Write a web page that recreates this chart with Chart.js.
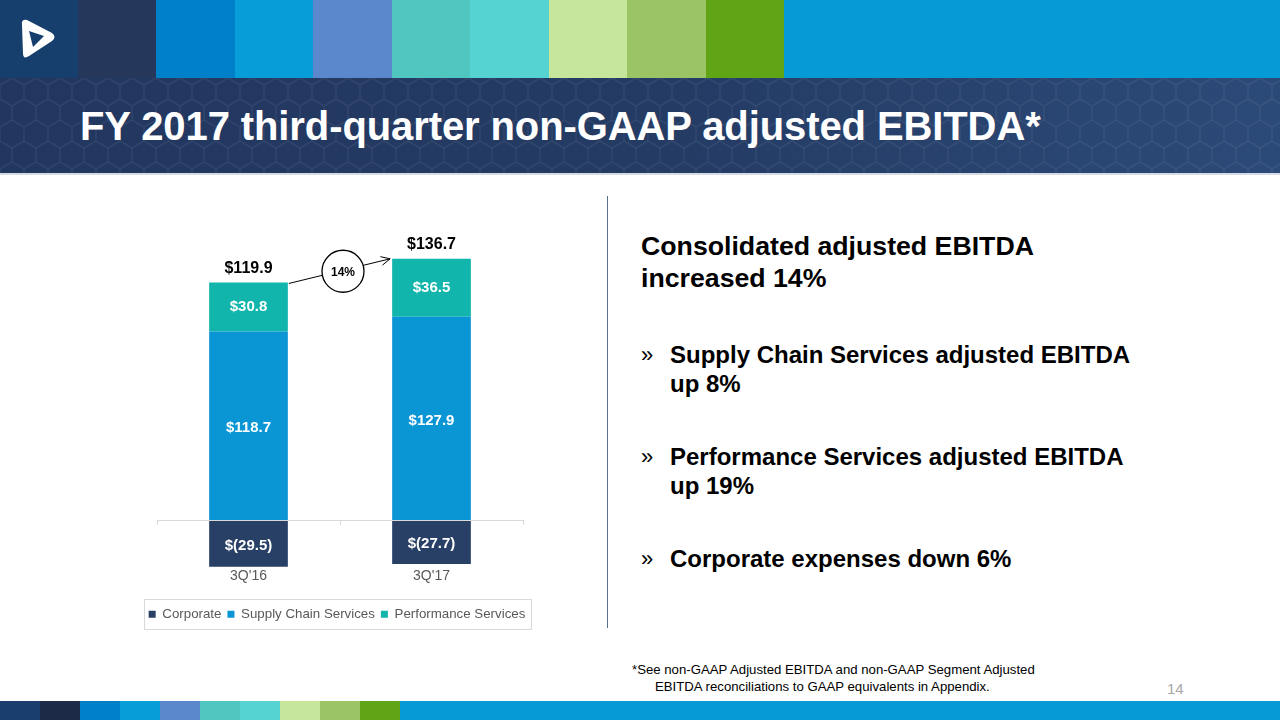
<!DOCTYPE html>
<html><head><meta charset="utf-8">
<script src="https://cdn.jsdelivr.net/npm/chart.js@4.4.0/dist/chart.umd.min.js"></script>
<style>
html,body{margin:0;padding:0;background:#fff;}
body{width:1280px;height:720px;position:relative;overflow:hidden;font-family:"Liberation Sans",Arial,sans-serif;}
.blk{position:absolute;}
#hdr{position:absolute;left:0;top:78px;width:1280px;height:95px;
 background-color:#233a62;
 background-image:url("data:image/svg+xml;utf8,<svg xmlns='http://www.w3.org/2000/svg' width='24' height='42'><path d='M12 0 L24 7 L24 21 L12 28 L0 21 L0 7 Z M12 28 L12 42 M0 21 L-12 28 M24 21 L36 28' fill='none' stroke='%23ffffff' stroke-opacity='0.07' stroke-width='1.2'/></svg>"),linear-gradient(90deg,#223760 0%,#243b63 50%,#2c4a78 100%);}
#hdrline{position:absolute;left:0;top:173px;width:1280px;height:2px;background:#d5dbe3;}
#title{position:absolute;left:80px;top:104px;color:#fff;font-weight:bold;font-size:40px;white-space:nowrap;letter-spacing:-0.1px;}
#chartwrap{position:absolute;left:120px;top:190px;width:434px;height:450px;}
#vline{position:absolute;left:607px;top:196px;width:1px;height:432px;background:#5a6f8f;}
.txt{position:absolute;color:#000;font-weight:bold;white-space:nowrap;}
.bul{position:absolute;font-size:22px;color:#000;}
#foot{position:absolute;left:632px;top:661px;font-size:13.2px;color:#000;line-height:17px;white-space:nowrap;}
#pg{position:absolute;left:1167px;top:680px;font-size:15px;color:#a6a6a6;}
</style></head>
<body>
<div class="blk" style="left:0;top:0;width:78px;height:78px;background:#173f6d"></div>
<svg class="blk" style="left:0;top:0" width="78" height="78" viewBox="0 0 78 78">
 <path d="M22 25 Q21 19 27 20 L52 33 Q57 37 52 41 L29 56 Q23 60 23 53 Z M29 31 L44 36 L33 47 Z" fill="#ffffff" fill-rule="evenodd"/>
</svg>
<div class="blk" style="left:78px;top:0;width:78px;height:78px;background:#25375a"></div>
<div class="blk" style="left:156px;top:0;width:79px;height:78px;background:#0080c8"></div>
<div class="blk" style="left:235px;top:0;width:78px;height:78px;background:#069dd8"></div>
<div class="blk" style="left:313px;top:0;width:79px;height:78px;background:#5b88cd"></div>
<div class="blk" style="left:392px;top:0;width:78px;height:78px;background:#4fc6c0"></div>
<div class="blk" style="left:470px;top:0;width:79px;height:78px;background:#55d3d3"></div>
<div class="blk" style="left:549px;top:0;width:78px;height:78px;background:#c6e69c"></div>
<div class="blk" style="left:627px;top:0;width:79px;height:78px;background:#9bc465"></div>
<div class="blk" style="left:706px;top:0;width:78px;height:78px;background:#5fa515"></div>
<div class="blk" style="left:784px;top:0;width:496px;height:78px;background:#069ad7"></div>
<div id="hdr"></div>
<div id="hdrline"></div>
<div id="title">FY 2017 third-quarter non-GAAP adjusted EBITDA*</div>

<div id="chartwrap"><canvas id="c" width="434" height="450"></canvas></div>

<div id="vline"></div>
<div class="txt" style="left:641px;top:230px;font-size:26.7px;line-height:32px;">Consolidated adjusted EBITDA<br>increased 14%</div>
<div class="bul" style="left:641px;top:342px;">»</div>
<div class="txt" style="left:670px;top:340px;font-size:24px;line-height:29px;">Supply Chain Services adjusted EBITDA<br>up 8%</div>
<div class="bul" style="left:641px;top:444px;">»</div>
<div class="txt" style="left:670px;top:442px;font-size:24px;line-height:29px;">Performance Services adjusted EBITDA<br>up 19%</div>
<div class="bul" style="left:641px;top:546px;">»</div>
<div class="txt" style="left:670px;top:544px;font-size:24px;line-height:29px;">Corporate expenses down 6%</div>

<div id="foot">*See non-GAAP Adjusted EBITDA and non-GAAP Segment Adjusted<br><span style="padding-left:23px">EBITDA reconciliations to GAAP equivalents in Appendix.</span></div>
<div id="pg">14</div>

<div class="blk" style="left:0;top:701px;width:40px;height:19px;background:#1a3f6f"></div>
<div class="blk" style="left:40px;top:701px;width:40px;height:19px;background:#1c2a48"></div>
<div class="blk" style="left:80px;top:701px;width:40px;height:19px;background:#0080c8"></div>
<div class="blk" style="left:120px;top:701px;width:40px;height:19px;background:#069dd8"></div>
<div class="blk" style="left:160px;top:701px;width:40px;height:19px;background:#5b88cd"></div>
<div class="blk" style="left:200px;top:701px;width:40px;height:19px;background:#4fc6c0"></div>
<div class="blk" style="left:240px;top:701px;width:40px;height:19px;background:#55d3d3"></div>
<div class="blk" style="left:280px;top:701px;width:40px;height:19px;background:#c6e69c"></div>
<div class="blk" style="left:320px;top:701px;width:40px;height:19px;background:#9bc465"></div>
<div class="blk" style="left:360px;top:701px;width:40px;height:19px;background:#5fa515"></div>
<div class="blk" style="left:400px;top:701px;width:880px;height:19px;background:#069ad7"></div>

<script>
const categories = ["3Q'16", "3Q'17"];
const corporate = [-29.5, -27.7];
const supplyChain = [118.7, 127.9];
const performance = [30.8, 36.5];
const totals = [119.9, 136.7];
const growthLabel = "14%";

const fmt = v => v < 0 ? '$(' + Math.abs(v).toFixed(1) + ')' : '$' + v.toFixed(1);

const decor = {
  id: 'decor',
  afterDatasetsDraw(chart) {
    const ctx = chart.ctx;
    const area = chart.chartArea;
    const y = chart.scales.y;
    const zeroY = y.getPixelForValue(0);
    ctx.save();
    ctx.strokeStyle = '#d9d9d9';
    ctx.lineWidth = 1;
    ctx.beginPath();
    ctx.moveTo(area.left, zeroY + 0.5); ctx.lineTo(area.right, zeroY + 0.5);
    const n = categories.length;
    for (let i = 0; i <= n; i++) {
      const x = Math.round(area.left + i * (area.right - area.left) / n) + 0.5;
      ctx.moveTo(x, zeroY); ctx.lineTo(x, zeroY + 5);
    }
    ctx.stroke();
    ctx.fillStyle = '#ffffff';
    ctx.font = 'bold 15px "Liberation Sans", Arial, sans-serif';
    ctx.textAlign = 'center';
    ctx.textBaseline = 'middle';
    chart.data.datasets.forEach((ds, di) => {
      const meta = chart.getDatasetMeta(di);
      meta.data.forEach((el, i) => {
        const cy = (el.y + el.base) / 2 + (ds.data[i] < 0 ? 2 : (di === 1 ? 2 : 0));
        ctx.fillText(fmt(ds.data[i]), el.x, cy);
      });
    });
    const top = chart.getDatasetMeta(2);
    ctx.fillStyle = '#000000';
    ctx.font = 'bold 16px "Liberation Sans", Arial, sans-serif';
    ctx.textBaseline = 'bottom';
    top.data.forEach((el, i) => {
      ctx.fillText(fmt(totals[i]), el.x, el.y - 6);
    });
    const a = top.data[0], b = top.data[1];
    const x1 = a.x + a.width / 2 + 1, y1 = a.y + 1;
    const x2 = b.x - b.width / 2 - 2, y2 = b.y;
    ctx.strokeStyle = '#000000';
    ctx.lineWidth = 1;
    ctx.beginPath();
    ctx.moveTo(x1, y1); ctx.lineTo(x2, y2);
    const ang = Math.atan2(y2 - y1, x2 - x1);
    ctx.moveTo(x2, y2); ctx.lineTo(x2 - 10 * Math.cos(ang - 0.45), y2 - 10 * Math.sin(ang - 0.45));
    ctx.moveTo(x2, y2); ctx.lineTo(x2 - 10 * Math.cos(ang + 0.45), y2 - 10 * Math.sin(ang + 0.45));
    ctx.stroke();
    const cx = (area.left + area.right) / 2 + 3;
    const cyc = y1 + (y2 - y1) * ((cx - x1) / (x2 - x1)) + 1;
    ctx.beginPath();
    ctx.arc(cx, cyc, 21, 0, Math.PI * 2);
    ctx.fillStyle = '#ffffff';
    ctx.fill();
    ctx.lineWidth = 1.3;
    ctx.stroke();
    ctx.fillStyle = '#000000';
    ctx.font = 'bold 12px "Liberation Sans", Arial, sans-serif';
    ctx.textBaseline = 'middle';
    ctx.fillText(growthLabel, cx, cyc + 1);
    ctx.restore();
  },
  afterDraw(chart) {
    const hb = chart.legend.legendHitBoxes;
    if (!hb || !hb.length) return;
    let l = Infinity, r = -Infinity, t = Infinity, b = -Infinity;
    hb.forEach(h => { l = Math.min(l, h.left); r = Math.max(r, h.left + h.width); t = Math.min(t, h.top); b = Math.max(b, h.top + h.height); });
    const ctx = chart.ctx;
    ctx.save();
    ctx.strokeStyle = '#d9d9d9';
    ctx.lineWidth = 1;
    ctx.strokeRect(Math.round(l - 5) + 0.5, Math.round((t + b) / 2 - 15) + 0.5, Math.round(r - l + 10), 30);
    ctx.restore();
  }
};

new Chart(document.getElementById('c'), {
  type: 'bar',
  data: {
    labels: categories,
    datasets: [
      { label: 'Corporate', data: corporate, backgroundColor: '#283f66', yAxisID: 'y' },
      { label: 'Supply Chain Services', data: supplyChain, backgroundColor: '#0a96d4', yAxisID: 'y' },
      { label: 'Performance Services', data: performance, backgroundColor: '#12b5ac', yAxisID: 'y' }
    ]
  },
  options: {
    responsive: false,
    animation: false,
    devicePixelRatio: 1,
    datasets: { bar: { barPercentage: 0.86, categoryPercentage: 0.5, clip: false } },
    layout: { padding: { left: 0, right: 0, top: 44, bottom: 9 } },
    scales: {
      x: {
        stacked: true,
        grid: { display: false, drawTicks: false },
        border: { display: false },
        ticks: { color: '#595959', font: { size: 14, family: '"Liberation Sans", Arial, sans-serif' }, padding: 5 },
        afterFit(s) { s.height += 12; }
      },
      y: {
        stacked: true,
        min: -27, max: 180,
        display: true,
        grid: { display: false },
        border: { display: false },
        ticks: { display: false },
        afterFit(s) { s.width = 37; }
      },
      y2: {
        type: 'linear',
        position: 'right',
        display: true,
        grid: { display: false },
        border: { display: false },
        ticks: { display: false },
        afterFit(s) { s.width = 31; }
      }
    },
    plugins: {
      legend: {
        position: 'bottom',
        labels: { boxWidth: 7, boxHeight: 7, padding: 6, color: '#595959',
          font: { size: 13.3, family: '"Liberation Sans", Arial, sans-serif' } }
      },
      tooltip: { enabled: false }
    }
  },
  plugins: [decor]
});
</script>
</body></html>
